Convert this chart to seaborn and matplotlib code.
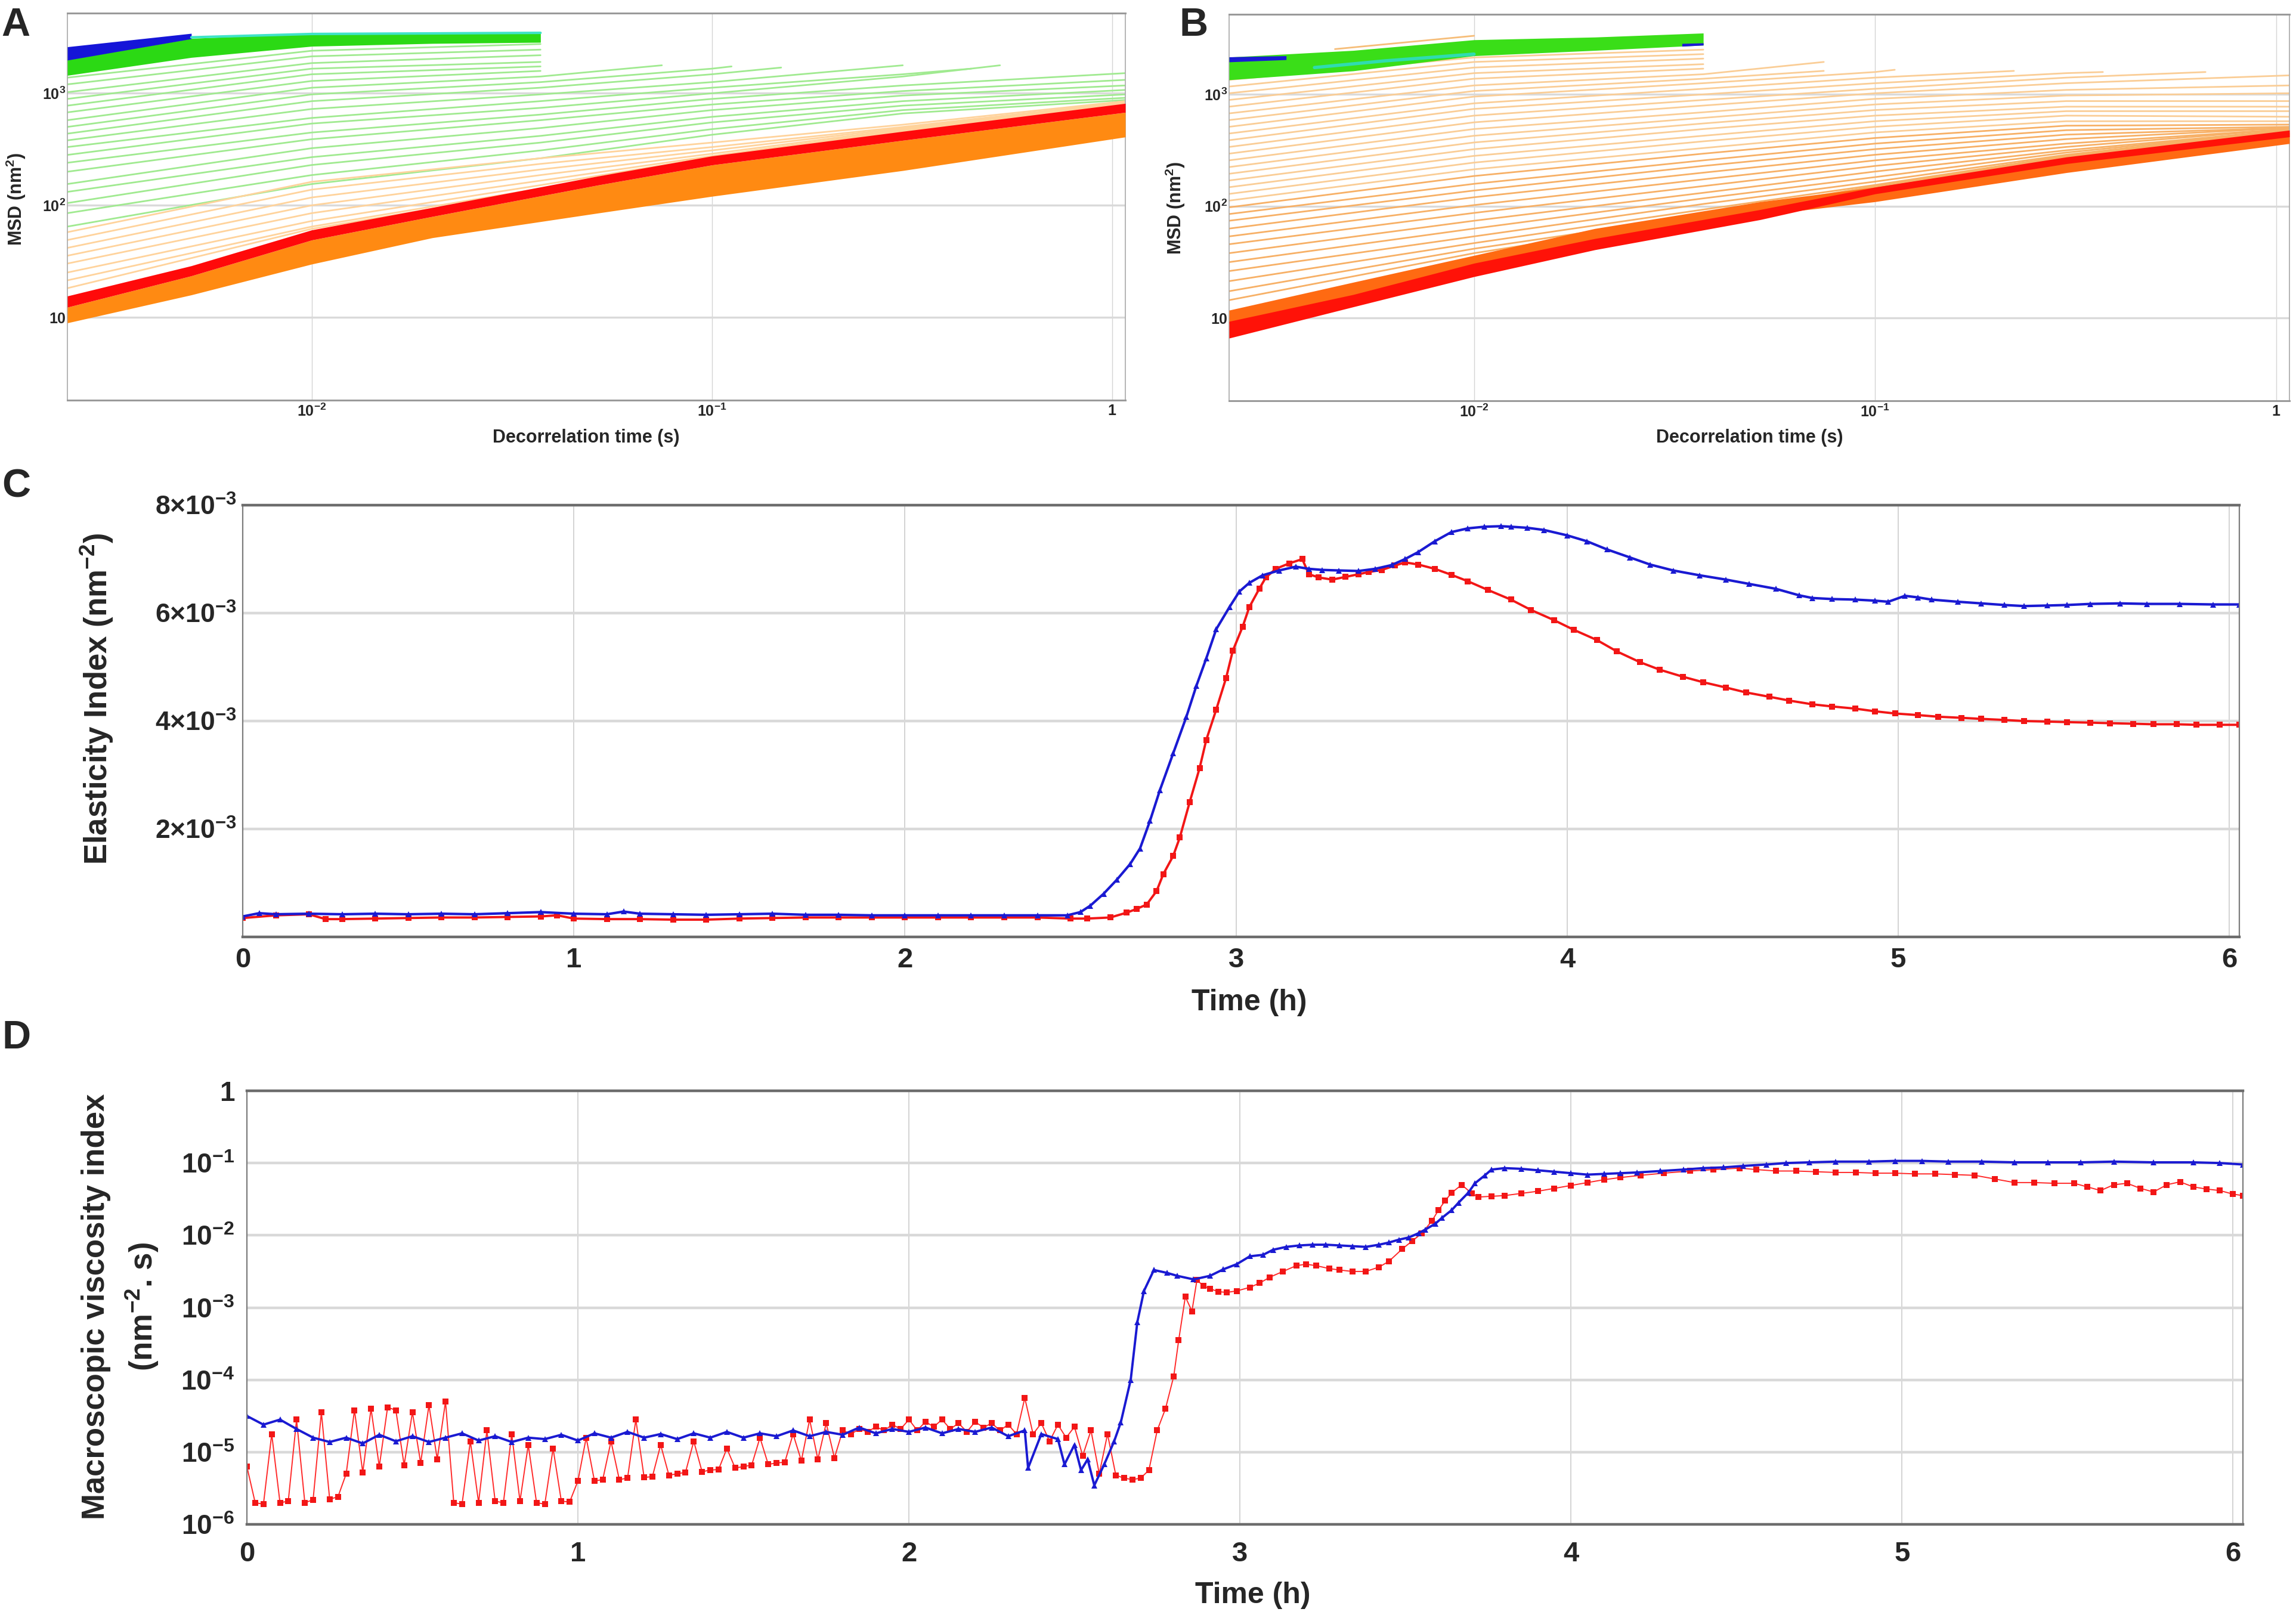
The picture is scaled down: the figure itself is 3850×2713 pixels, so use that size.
import numpy as np
import pandas as pd
import matplotlib
matplotlib.use('Agg')
from matplotlib import pyplot as plt
from matplotlib.ticker import NullLocator
import seaborn as sns

sns.set_theme(style='white')
plt.rcParams['font.family'] = ['Liberation Sans', 'DejaVu Sans']
plt.rcParams['font.weight'] = 'bold'
plt.rcParams['mathtext.fontset'] = 'custom'
plt.rcParams['mathtext.rm'] = 'Liberation Sans:bold'
plt.rcParams['mathtext.it'] = 'Liberation Sans:bold:italic'
plt.rcParams['mathtext.bf'] = 'Liberation Sans:bold'

#%% panels A/B : MSD curves, values are log10(MSD / nm^2)
tau_nodes = [0.00245, 0.01, 0.0373, 0.1, 0.3, 1.08]

a_green_lines = [
    [3.14, 3.38, 3.44, None, None, None],
    [3.08, 3.33, 3.39, None, None, None],
    [3.01, 3.27, 3.34, None, None, None],
    [2.95, 3.22, 3.28, None, None, None],
    [2.89, 3.17, 3.24, None, None, None],
    [2.83, 3.11, 3.20, None, None, None],
    [2.76, 3.05, 3.15, None, None, None],
    [2.70, 2.99, 3.10, 3.22, None, None],
    [2.64, 2.93, 3.05, 3.17, None, None],
    [2.58, 2.86, 2.99, 3.10, 3.25, None],
    [2.52, 2.78, 2.93, 3.05, 3.17, None],
    [2.45, 2.73, 2.87, 3.00, 3.15, None],
    [2.38, 2.65, 2.81, 2.95, 3.07, 3.18],
    [2.30, 2.59, 2.76, 2.90, 3.02, 3.12],
    [2.19, 2.51, 2.69, 2.85, 2.98, 3.07],
    [2.12, 2.43, 2.62, 2.79, 2.93, 3.03],
    [2.02, 2.36, 2.56, 2.74, 2.89, 2.99],
    [1.93, 2.27, 2.49, 2.68, 2.85, 2.96],
    [1.81, 2.19, 2.42, 2.63, 2.82, 2.94],
]
# (tau, log MSD) where a curve stops between two nodes
a_green_stops = [None, None, None, None, None, None,
                 (0.075, 3.25), (0.112, 3.24), (0.149, 3.23), None,
                 (0.445, 3.22), (0.525, 3.25), None, None, None, None,
                 None, None, None]

a_orange_lines = [
    [1.76, 2.21, 2.42, 2.56, 2.72, 2.93],
    [1.69, 2.14, 2.37, 2.52, 2.70, 2.92],
    [1.62, 2.07, 2.32, 2.49, 2.69, 2.92],
    [1.55, 2.00, 2.27, 2.46, 2.68, 2.91],
    [1.48, 1.93, 2.22, 2.44, 2.67, 2.91],
    [1.40, 1.86, 2.18, 2.43, 2.67, 2.91],
    [1.33, 1.81, 2.15, 2.42, 2.66, 2.91],
    [1.26, 1.79, 2.13, 2.41, 2.66, 2.91],
]

a_top_tau = [0.00245, 0.005, 0.01, 0.02, 0.0373]
a_green_lo = [3.16, 3.32, 3.42, 3.445, 3.455]
a_green_hi = [3.30, 3.49, 3.535, 3.54, 3.546]
a_blue_tau = [0.00245, 0.005]
a_blue_lo = [3.296, 3.487]
a_blue_hi = [3.415, 3.535]
a_cyan_tau = [0.005, 0.01, 0.02, 0.0373]
a_cyan = [3.50, 3.53, 3.535, 3.54]

band_tau = [0.00245, 0.005, 0.01, 0.02, 0.0518, 0.1, 0.3, 1.08]
a_red_hi = [1.19, 1.46, 1.78, 1.98, 2.26, 2.44, 2.66, 2.91]
a_red_lo = [1.09, 1.37, 1.69, 1.90, 2.18, 2.36, 2.58, 2.83]
a_org_lo = [0.95, 1.20, 1.475, 1.71, 1.93, 2.08, 2.31, 2.61]

b_thin_lines = [
    [3.13, 3.33, 3.40, None, None, None],
    [3.07, 3.29, 3.36, None, None, None],
    [3.01, 3.24, 3.32, None, None, None],
    [2.95, 3.19, 3.27, None, None, None],
    [2.89, 3.14, 3.23, None, None, None],
    [2.83, 3.08, 3.18, None, None, None],
    [2.77, 3.03, 3.14, None, None, None],
    [2.71, 2.98, 3.10, 3.20, None, None],
    [2.65, 2.92, 3.05, 3.15, None, None],
    [2.59, 2.87, 3.00, 3.10, 3.19, None],
    [2.53, 2.81, 2.95, 3.05, 3.15, None],
    [2.47, 2.75, 2.90, 3.01, 3.10, 3.17],
    [2.41, 2.69, 2.84, 2.96, 3.04, 3.08],
    [2.35, 2.63, 2.79, 2.91, 2.99, 3.01],
    [2.29, 2.57, 2.74, 2.86, 2.94, 2.94],
    [2.23, 2.51, 2.69, 2.81, 2.89, 2.89],
    [2.17, 2.45, 2.63, 2.76, 2.85, 2.85],
    [2.11, 2.39, 2.58, 2.71, 2.81, 2.80],
    [2.05, 2.33, 2.52, 2.66, 2.76, 2.76],
    [1.99, 2.27, 2.47, 2.61, 2.72, 2.73],
    [1.93, 2.20, 2.41, 2.56, 2.68, 2.71],
    [1.87, 2.14, 2.36, 2.51, 2.64, 2.70],
    [1.80, 2.08, 2.30, 2.46, 2.60, 2.70],
    [1.73, 2.01, 2.24, 2.41, 2.56, 2.69],
    [1.66, 1.94, 2.18, 2.36, 2.53, 2.69],
    [1.58, 1.87, 2.12, 2.31, 2.50, 2.68],
    [1.50, 1.80, 2.07, 2.26, 2.48, 2.68],
    [1.42, 1.73, 2.02, 2.22, 2.46, 2.68],
    [1.33, 1.67, 1.97, 2.19, 2.45, 2.68],
    [1.24, 1.62, 1.92, 2.18, 2.45, 2.68],
    [1.16, 1.58, 1.90, 2.17, 2.44, 2.68],
]
b_thin_stops = [None, None, None, None, None,
                (0.0745, 3.29), (0.0745, 3.21), (0.112, 3.22), (0.222, 3.21),
                (0.37, 3.20), (0.667, 3.20)] + [None] * 20

b_green_lo = [3.13, 3.21, 3.345, 3.393, 3.44]
b_green_hi = [3.333, 3.393, 3.488, 3.512, 3.548]
b_blue1_tau = [0.00245, 0.0034]
b_blue1_lo = [3.29, 3.31]
b_blue1_hi = [3.335, 3.345]
b_blue2_tau = [0.033, 0.0373]
b_blue2_lo = [3.43, 3.44]
b_blue2_hi = [3.455, 3.46]
b_cyan_tau = [0.004, 0.006, 0.01]
b_cyan = [3.24, 3.30, 3.36]
b_stray_tau = [0.0045, 0.01]
b_stray = [3.405, 3.524]

b_org_hi = [1.07, 1.32, 1.56, 1.80, 2.04, 2.17, 2.43, 2.66]
b_org_lo = [0.95, 1.15, 1.42, 1.65, 1.92, 2.04, 2.30, 2.56]
b_red_hi = [0.97, 1.21, 1.49, 1.71, 1.97, 2.17, 2.44, 2.68]
b_red_lo = [0.82, 1.10, 1.37, 1.61, 1.88, 2.11, 2.38, 2.62]

#%% panel C : elasticity index (x 1e-3 nm^-2)
c_blue_t = [0.0, 0.05, 0.1, 0.2, 0.3, 0.4, 0.5, 0.6, 0.7, 0.8, 0.9, 1.0, 1.1, 1.15,
            1.2, 1.3, 1.4, 1.5, 1.6, 1.7, 1.8, 1.9, 2.0, 2.1, 2.2, 2.3, 2.4, 2.49,
            2.53, 2.56, 2.60, 2.64, 2.68, 2.71, 2.74, 2.77, 2.81, 2.85, 2.88, 2.91, 2.94, 2.98,
            3.01, 3.04, 3.08, 3.13, 3.18, 3.22, 3.26, 3.31, 3.37, 3.42, 3.47, 3.51, 3.55, 3.60,
            3.65, 3.70, 3.75, 3.80, 3.83, 3.88, 3.93,
            4.00, 4.06, 4.12, 4.19, 4.25, 4.32, 4.40, 4.48, 4.55, 4.63, 4.70, 4.74, 4.80, 4.87,
            4.93, 4.97,
            5.02, 5.06, 5.10, 5.18, 5.25, 5.32, 5.38, 5.45, 5.51, 5.58, 5.67, 5.75, 5.85, 5.95, 6.03]
c_blue_v = [0.38, 0.44, 0.42, 0.43, 0.42, 0.43, 0.42, 0.43, 0.42, 0.44, 0.46, 0.43, 0.42, 0.47,
            0.43, 0.42, 0.41, 0.42, 0.43, 0.41, 0.41, 0.40, 0.40, 0.40, 0.40, 0.40, 0.40, 0.40,
            0.46, 0.58, 0.80, 1.06, 1.35, 1.64, 2.15, 2.72, 3.40, 4.08, 4.65, 5.16, 5.70, 6.11,
            6.40, 6.56, 6.70, 6.79, 6.86, 6.82, 6.80, 6.79, 6.78, 6.82, 6.89, 7.00, 7.13, 7.33,
            7.50, 7.57, 7.60, 7.61, 7.60, 7.58, 7.54,
            7.44, 7.33, 7.18, 7.03, 6.90, 6.79, 6.70, 6.62, 6.54, 6.45, 6.33, 6.28, 6.26, 6.25,
            6.23, 6.21,
            6.32, 6.29, 6.25, 6.21, 6.18, 6.15, 6.13, 6.14, 6.15, 6.17, 6.18, 6.17, 6.17, 6.16, 6.16]

c_red_t = [0.0, 0.1, 0.2, 0.25, 0.3, 0.4, 0.5, 0.6, 0.7, 0.8, 0.9, 0.95,
           1.0, 1.1, 1.2, 1.3, 1.4, 1.5, 1.6, 1.7, 1.8, 1.9, 2.0, 2.1, 2.2, 2.3, 2.4, 2.5, 2.55,
           2.62, 2.67, 2.70, 2.73, 2.76, 2.78, 2.81, 2.83, 2.86, 2.89, 2.91, 2.94, 2.97, 2.99,
           3.02, 3.04, 3.07, 3.09, 3.12, 3.16, 3.20, 3.22, 3.25, 3.29, 3.33, 3.37, 3.40, 3.44,
           3.48, 3.51, 3.55, 3.60, 3.65, 3.70, 3.76, 3.83, 3.89, 3.96,
           4.02, 4.09, 4.15, 4.22, 4.28, 4.35, 4.41, 4.48, 4.54, 4.61, 4.67, 4.74, 4.80, 4.87,
           4.93, 4.99,
           5.06, 5.12, 5.19, 5.25, 5.32, 5.38, 5.45, 5.51, 5.58, 5.64, 5.71, 5.77, 5.84, 5.90,
           5.97, 6.03]
c_red_v = [0.35, 0.40, 0.42, 0.33, 0.33, 0.34, 0.35, 0.36, 0.36, 0.37, 0.38, 0.40,
           0.34, 0.33, 0.33, 0.32, 0.32, 0.34, 0.35, 0.36, 0.36, 0.36, 0.36, 0.36, 0.36, 0.36,
           0.36, 0.34, 0.34,
           0.36, 0.45, 0.52, 0.60, 0.85, 1.16, 1.50, 1.84, 2.50, 3.13, 3.65, 4.21, 4.80, 5.30,
           5.75, 6.11, 6.45, 6.66, 6.82, 6.92, 7.00, 6.72, 6.66, 6.62, 6.67, 6.72, 6.76, 6.80,
           6.88, 6.94, 6.90, 6.82, 6.71, 6.59, 6.43, 6.25, 6.06, 5.87,
           5.69, 5.50, 5.29, 5.09, 4.95, 4.82, 4.72, 4.62, 4.53, 4.45, 4.38, 4.31, 4.27, 4.23,
           4.18, 4.14,
           4.11, 4.08, 4.06, 4.04, 4.02, 4.00, 3.99, 3.98, 3.97, 3.96, 3.95, 3.94, 3.94, 3.93,
           3.93, 3.93]

#%% panel D : macroscopic viscosity index, log10 values
d_red_t = [0.0, 0.025, 0.05, 0.075, 0.1, 0.125, 0.15, 0.175, 0.2, 0.225, 0.25, 0.275,
           0.3, 0.325, 0.35, 0.375, 0.4, 0.425, 0.45, 0.475, 0.5, 0.525, 0.55, 0.575,
           0.6, 0.625, 0.65, 0.675, 0.7, 0.725, 0.75, 0.775, 0.8, 0.825, 0.85, 0.875,
           0.9, 0.925, 0.95, 0.975, 1.0, 1.025, 1.05, 1.075, 1.1, 1.125, 1.15, 1.175,
           1.2, 1.225, 1.25, 1.275, 1.3, 1.325, 1.35, 1.375, 1.4, 1.425, 1.45, 1.475,
           1.5, 1.525, 1.55, 1.575, 1.6, 1.625, 1.65, 1.675, 1.7, 1.725, 1.75, 1.775,
           1.8, 1.825, 1.85, 1.875, 1.9, 1.925, 1.95, 1.975, 2.0, 2.025, 2.05, 2.075,
           2.1, 2.125, 2.15, 2.175, 2.2, 2.225, 2.25, 2.275, 2.3, 2.325, 2.35, 2.375,
           2.4, 2.425, 2.45, 2.475, 2.5, 2.525, 2.55, 2.575, 2.6,
           2.625, 2.65, 2.675, 2.70, 2.725, 2.75, 2.775, 2.80, 2.815, 2.835, 2.855, 2.87,
           2.89, 2.91, 2.935, 2.96, 2.99, 3.03, 3.06, 3.09, 3.13, 3.17, 3.20, 3.23, 3.27,
           3.30, 3.34, 3.38, 3.42, 3.45, 3.49, 3.52, 3.55, 3.58, 3.60, 3.62, 3.64, 3.67,
           3.70, 3.72, 3.76, 3.80, 3.85, 3.90, 3.95, 4.00, 4.05, 4.10, 4.15, 4.21, 4.28,
           4.36, 4.43, 4.51, 4.56, 4.62, 4.68, 4.74, 4.80, 4.86, 4.92, 4.98, 5.04, 5.10,
           5.16, 5.22, 5.28, 5.34, 5.40, 5.46, 5.52, 5.56, 5.60, 5.64, 5.68, 5.72, 5.76,
           5.80, 5.84, 5.88, 5.92, 5.96, 6.00, 6.03]
d_red_v = [-5.20, -5.70, -5.72, -4.75, -5.70, -5.68, -4.55, -5.70, -5.66, -4.45, -5.65, -5.62,
           -5.30, -4.42, -5.28, -4.40, -5.20, -4.38, -4.42, -5.18, -4.45, -5.15, -4.35, -5.10,
           -4.30, -5.70, -5.72, -4.85, -5.70, -4.70, -5.68, -5.70, -4.75, -5.68, -4.90, -5.70,
           -5.72, -4.95, -5.68, -5.69, -5.40, -4.80, -5.40, -5.38, -4.85, -5.38, -5.36, -4.55,
           -5.35, -5.34, -4.90, -5.32, -5.30, -5.28, -4.85, -5.27, -5.25, -5.24, -4.95, -5.22,
           -5.20, -5.18, -4.80, -5.17, -5.15, -5.14, -4.75, -5.12, -4.55, -5.10, -4.60, -5.08,
           -4.70, -4.75, -4.68, -4.72, -4.65, -4.70, -4.62, -4.68, -4.55, -4.70, -4.58, -4.65,
           -4.55, -4.68, -4.60, -4.72, -4.58, -4.66, -4.60, -4.70, -4.62, -4.75, -4.25, -4.75,
           -4.60, -4.85, -4.62, -4.80, -4.65, -5.05, -4.70, -5.30, -4.75,
           -5.32, -5.36, -5.38, -5.36, -5.25, -4.70, -4.40, -3.95, -3.45, -2.85, -3.05, -2.62,
           -2.70, -2.74, -2.78, -2.79, -2.77, -2.72, -2.66, -2.58, -2.50, -2.42, -2.40, -2.42, -2.46,
           -2.48, -2.50, -2.50, -2.44, -2.36, -2.19, -2.08, -1.97, -1.80, -1.65, -1.52, -1.41, -1.30,
           -1.42, -1.47, -1.46, -1.45, -1.42, -1.39, -1.35, -1.31, -1.27, -1.23, -1.20, -1.17, -1.14,
           -1.11, -1.09, -1.07, -1.09, -1.11, -1.11, -1.12, -1.13, -1.13, -1.14, -1.14, -1.15, -1.15,
           -1.16, -1.17, -1.22, -1.27, -1.27, -1.28, -1.28, -1.33, -1.38, -1.30, -1.28, -1.35, -1.40,
           -1.30, -1.26, -1.33, -1.36, -1.38, -1.43, -1.45]

d_blue_t = [0.0, 0.05, 0.1, 0.15, 0.2, 0.25, 0.3, 0.35, 0.4, 0.45, 0.5, 0.55, 0.6, 0.65,
            0.7, 0.75, 0.8, 0.85, 0.9, 0.95, 1.0, 1.05, 1.1, 1.15, 1.2, 1.25, 1.3, 1.35,
            1.4, 1.45, 1.5, 1.55, 1.6, 1.65, 1.7, 1.75, 1.8, 1.85, 1.9, 1.95, 2.0, 2.05,
            2.1, 2.15, 2.2, 2.25, 2.3, 2.35, 2.36, 2.4, 2.45, 2.47, 2.5, 2.52, 2.54, 2.56,
            2.59, 2.62, 2.64, 2.67, 2.69, 2.71, 2.74, 2.78, 2.81, 2.86, 2.91, 2.95, 2.99,
            3.03, 3.07, 3.10, 3.14, 3.18, 3.22, 3.26, 3.30, 3.34, 3.38, 3.42, 3.45, 3.48,
            3.51, 3.54, 3.56, 3.59, 3.61, 3.64, 3.66, 3.69, 3.71, 3.74, 3.76, 3.80, 3.85,
            3.90, 3.95, 4.00, 4.05, 4.10, 4.15, 4.20, 4.27, 4.34, 4.40, 4.46, 4.52, 4.59,
            4.65, 4.72, 4.80, 4.90, 4.98, 5.06, 5.14, 5.24, 5.34, 5.44, 5.54, 5.64, 5.76,
            5.88, 5.96, 6.03]
d_blue_v = [-4.50, -4.62, -4.55, -4.68, -4.80, -4.86, -4.80, -4.88, -4.76, -4.85, -4.78, -4.86,
            -4.80, -4.74, -4.84, -4.78, -4.86, -4.80, -4.82, -4.76, -4.84, -4.74, -4.80, -4.72,
            -4.80, -4.75, -4.82, -4.74, -4.80, -4.72, -4.80, -4.74, -4.78, -4.70, -4.78, -4.72,
            -4.76, -4.66, -4.74, -4.68, -4.72, -4.66, -4.74, -4.68, -4.72, -4.66, -4.78, -4.70,
            -5.22, -4.75, -4.82, -5.17, -4.90, -5.25, -5.10, -5.46, -5.17, -4.85, -4.59, -4.00,
            -3.20, -2.77, -2.48, -2.52, -2.56, -2.61, -2.56, -2.47, -2.40, -2.29, -2.27, -2.20,
            -2.16, -2.14, -2.13, -2.13, -2.14, -2.15, -2.16, -2.13, -2.10, -2.06, -2.03, -1.97,
            -1.92, -1.84, -1.76, -1.65, -1.55, -1.41, -1.28, -1.17, -1.09, -1.07, -1.08, -1.10,
            -1.12, -1.14, -1.16, -1.15, -1.14, -1.13, -1.11, -1.09, -1.07, -1.06, -1.04, -1.02,
            -1.00, -0.99, -0.98, -0.98, -0.97, -0.97, -0.98, -0.98, -0.99, -0.99, -0.99, -0.98,
            -0.99, -0.99, -1.00, -1.02]

RED = '#f21616'
BLUE = '#1a1ad2'
W, H = 3850, 2713


def box(l, t, r, b):
    return [l / W, 1 - b / H, (r - l) / W, (b - t) / H]


def curves_df(rows, stops):
    recs = []
    for i, row in enumerate(rows):
        for t, v in zip(tau_nodes, row):
            if v is not None:
                recs.append((i, t, 10 ** v))
        if stops[i] is not None:
            recs.append((i, stops[i][0], 10 ** stops[i][1]))
    return pd.DataFrame(recs, columns=['curve', 'tau', 'msd'])


def thin(ax, rows, stops, color, lw=2.0):
    df = curves_df(rows, stops)
    sns.lineplot(data=df, x='tau', y='msd', units='curve', estimator=None, sort=False,
                 color=color, lw=lw, ax=ax, legend=False, zorder=2)


def band(ax, tau, lo, hi, color):
    ax.fill_between(tau, 10 ** np.array(lo), 10 ** np.array(hi), color=color, lw=0, zorder=3)


def line(ax, tau, vals, color, lw):
    sns.lineplot(x=tau, y=10 ** np.array(vals), color=color, lw=lw, ax=ax,
                 estimator=None, sort=False, zorder=4)


def frame(ax, heavy, light, c_heavy, c_light):
    for s in ['top', 'bottom']:
        ax.spines[s].set_linewidth(heavy)
        ax.spines[s].set_color(c_heavy)
    for s in ['left', 'right']:
        ax.spines[s].set_linewidth(light)
        ax.spines[s].set_color(c_light)
    ax.tick_params(length=0)
    ax.set_axisbelow(True)


def msd_axes(ax):
    ax.set_xscale('log')
    ax.set_yscale('log')
    ax.set_xlim(0.00245, 1.08)
    ax.set_ylim(1.82, 5200)
    ax.xaxis.set_minor_locator(NullLocator())
    ax.yaxis.set_minor_locator(NullLocator())
    ax.set_xticks([0.01, 0.1, 1])
    ax.set_xticklabels(['10$^{-2}$', '10$^{-1}$', '1'], fontsize=18, fontweight='bold')
    ax.set_yticks([10, 100, 1000])
    ax.set_yticklabels(['10', '10$^{2}$', '10$^{3}$'], fontsize=18, fontweight='bold')
    ax.grid(axis='y', color='#dadada', lw=2.4)
    ax.grid(axis='x', color='#d4d4d4', lw=1.0)
    frame(ax, 2.2, 1.2, '#9a9a9a', '#a8a8a8')
    ax.tick_params(axis='x', pad=4)
    ax.tick_params(axis='y', pad=2)
    ax.set_xlabel('Decorrelation time (s)', fontsize=22, fontweight='bold', va='center', ha='center')
    ax.set_ylabel('MSD (nm$^{2}$)', fontsize=22, fontweight='bold', va='center', ha='center')


fig = plt.figure(figsize=(38.5, 27.13), dpi=100)
ax_a = fig.add_axes(box(113, 22, 1887, 671))
ax_b = fig.add_axes(box(2061, 24, 3839, 672))
ax_c = fig.add_axes(box(407, 847, 3755, 1571))
ax_d = fig.add_axes(box(414, 1829, 3761, 2556))

#%% A
msd_axes(ax_a)
thin(ax_a, a_green_lines, a_green_stops, '#a0ea90')
thin(ax_a, a_orange_lines, [None] * len(a_orange_lines), '#ffd39c')
band(ax_a, a_top_tau, a_green_lo, a_green_hi, '#2bd914')
band(ax_a, a_blue_tau, a_blue_lo, a_blue_hi, '#1515d8')
line(ax_a, a_cyan_tau, a_cyan, '#3fe3c8', 3)
band(ax_a, band_tau, a_org_lo, a_red_lo, '#ff8a12')
band(ax_a, band_tau, a_red_lo, a_red_hi, '#ff0a0a')
ax_a.xaxis.set_label_coords(0.49, -0.097)
ax_a.yaxis.set_label_coords(-0.0485, 0.519)

#%% B
msd_axes(ax_b)
b_lower = len(b_thin_lines) - 12
thin(ax_b, b_thin_lines[:b_lower], b_thin_stops[:b_lower], '#facd96')
thin(ax_b, b_thin_lines[b_lower:], b_thin_stops[b_lower:], '#f7b066')
line(ax_b, b_stray_tau, b_stray, '#f6bd78', 2)
band(ax_b, a_top_tau, b_green_lo, b_green_hi, '#3ade18')
line(ax_b, b_cyan_tau, b_cyan, '#2fdcb0', 4)
band(ax_b, b_blue1_tau, b_blue1_lo, b_blue1_hi, '#1a1ad4')
band(ax_b, b_blue2_tau, b_blue2_lo, b_blue2_hi, '#1a1ad4')
band(ax_b, band_tau, b_org_lo, b_org_hi, '#ff6a12')
band(ax_b, band_tau, b_red_lo, b_red_hi, '#ff1208')
ax_b.xaxis.set_label_coords(0.491, -0.096)
ax_b.yaxis.set_label_coords(-0.0506, 0.498)

#%% C
sns.lineplot(x=c_red_t, y=np.array(c_red_v) * 1e-3, color=RED, lw=2.8, marker='s', ms=7,
             mec=RED, mew=0, estimator=None, sort=False, ax=ax_c)
sns.lineplot(x=c_blue_t, y=np.array(c_blue_v) * 1e-3, color=BLUE, lw=3.0, marker='^', ms=7,
             mec=BLUE, mew=0, estimator=None, sort=False, ax=ax_c)
ax_c.set_xlim(0, 6.03)
ax_c.set_ylim(0, 8e-3)
ax_c.set_xticks(range(7))
ax_c.set_xticklabels([str(i) for i in range(7)], fontsize=34, fontweight='bold')
ax_c.set_yticks([2e-3, 4e-3, 6e-3, 8e-3])
ax_c.set_yticklabels(['2×10$^{-3}$', '4×10$^{-3}$', '6×10$^{-3}$', '8×10$^{-3}$'],
                     fontsize=32, fontweight='bold')
ax_c.grid(axis='y', color='#d9d9d9', lw=3.2)
ax_c.grid(axis='x', color='#d0d0d0', lw=1.3)
frame(ax_c, 3.2, 1.6, '#6c6c6c', '#7c7c7c')
ax_c.tick_params(axis='x', pad=12)
ax_c.tick_params(axis='y', pad=7)
ax_c.set_xlabel('Time (h)', fontsize=36, fontweight='bold', va='center', ha='center')
ax_c.set_ylabel('Elasticity Index (nm$^{-2}$)', fontsize=38, fontweight='bold',
                va='center', ha='center')
ax_c.xaxis.set_label_coords(0.504, -0.152)
ax_c.yaxis.set_label_coords(-0.0732, 0.551)

#%% D
ax_d.set_yscale('log')
sns.lineplot(x=d_red_t, y=10 ** np.array(d_red_v), color='#ff2a2a', lw=1.4, marker='s', ms=7,
             mfc=RED, mec=RED, mew=0, estimator=None, sort=False, ax=ax_d)
sns.lineplot(x=d_blue_t, y=10 ** np.array(d_blue_v), color=BLUE, lw=2.8, marker='^', ms=7,
             mec=BLUE, mew=0, estimator=None, sort=False, ax=ax_d)
ax_d.set_xlim(0, 6.03)
ax_d.set_ylim(1e-6, 1)
ax_d.yaxis.set_minor_locator(NullLocator())
ax_d.set_xticks(range(7))
ax_d.set_xticklabels([str(i) for i in range(7)], fontsize=34, fontweight='bold')
ax_d.set_yticks([1e-6, 1e-5, 1e-4, 1e-3, 1e-2, 1e-1, 1])
ax_d.set_yticklabels(['10$^{-6}$', '10$^{-5}$', '10$^{-4}$', '10$^{-3}$', '10$^{-2}$',
                      '10$^{-1}$', '1'], fontsize=33, fontweight='bold')
ax_d.grid(axis='y', color='#d9d9d9', lw=3.2)
ax_d.grid(axis='x', color='#d0d0d0', lw=1.3)
frame(ax_d, 3.2, 1.6, '#6c6c6c', '#7c7c7c')
ax_d.tick_params(axis='x', pad=20)
ax_d.tick_params(axis='y', pad=15)
ax_d.set_xlabel('Time (h)', fontsize=36, fontweight='bold', va='center', ha='center')
ax_d.set_ylabel('Macroscopic viscosity index\n(nm$^{-2}$. s)', fontsize=38, fontweight='bold',
                va='center', ha='center', multialignment='center', linespacing=1.45)
ax_d.xaxis.set_label_coords(0.504, -0.164)
ax_d.yaxis.set_label_coords(-0.0633, 0.502)

#%% panel letters
for letter, x, y in [('A', 2, 12), ('B', 1978, 12), ('C', 3, 786), ('D', 3, 1710)]:
    fig.text(x / W, 1 - y / H, letter, fontsize=48, fontweight='bold', ha='left', va='top')

fig.savefig('out.png', dpi=100)
